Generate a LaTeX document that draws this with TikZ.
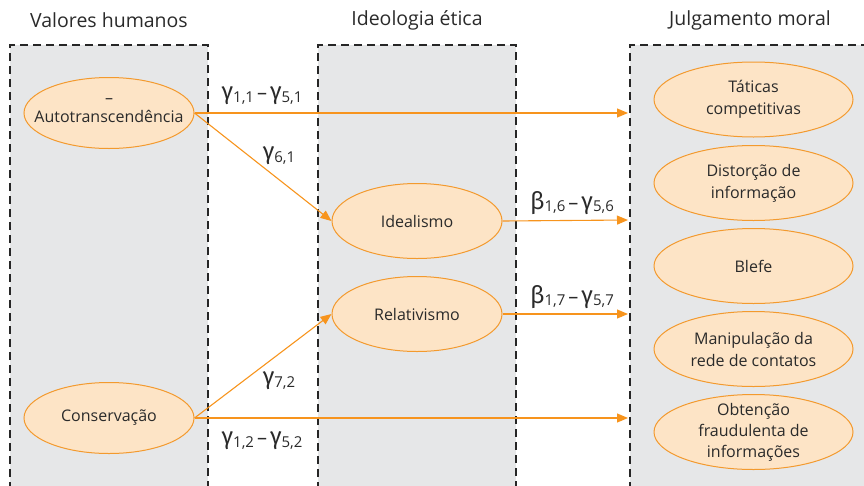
\documentclass[tikz,border=0pt]{standalone}
\usepackage{fontspec}
\setmainfont{Open Sans}
\newfontfamily\grk{Fira Sans}
\usetikzlibrary{shapes.geometric,arrows.meta}
\definecolor{boxgray}{HTML}{E6E7E8}
\definecolor{ellfill}{HTML}{FDE4C6}
\definecolor{ellline}{HTML}{F39A2E}
\definecolor{arr}{HTML}{F7941D}
\definecolor{txt}{HTML}{2A2A2A}
\newcommand{\gsub}[2]{{\grk\fontsize{24}{24}\selectfont #1}\raisebox{-0.4ex}{\fontsize{15}{15}\selectfont #2}}
\newcommand{\gdash}{\hspace{3pt}{\fontsize{20}{20}\selectfont –}\hspace{3pt}}
\begin{document}
\begin{tikzpicture}[x=1pt,y=-1pt,
  colbox/.style={draw=black!85,dash pattern=on 8pt off 5pt,line width=2.4pt},
  ell/.style={ellipse,draw=ellline,fill=ellfill,line width=1pt,minimum width=170pt,minimum height=71pt,inner sep=0pt},
  rell/.style={ell,minimum width=199pt,minimum height=75pt},
  etxt/.style={text=txt,font=\fontsize{16}{22}\selectfont,align=center},
  head/.style={text=txt,font=\fontsize{19.5}{22}\selectfont},
  conn/.style={draw=arr,line width=1.1pt,-{Triangle[length=11pt,width=9pt]}},
  lab/.style={text=txt,inner sep=0pt}]
\useasboundingbox (0,0) rectangle (864,485);
% column boxes
\fill[boxgray] (10,45) rectangle (208,490);
\fill[boxgray] (318,45) rectangle (516,490);
\fill[boxgray] (630,45) rectangle (870,490);
\draw[colbox] (10,490) -- (10,45) -- (208,45) -- (208,490);
\draw[colbox] (318,490) -- (318,45) -- (516,45) -- (516,490);
\draw[colbox] (630,490) -- (630,45) -- (870,45);
% headers
\node[head] (h1) at (109,20) {Valores humanos};
\node[head] (h2) at (417,20) {Ideologia ética};
\node[head] (h3) at (750,20) {Julgamento moral};
% left ellipses
\node[ell] (auto) at (109,113) {};
\node[etxt] (autot) at (109,111) {–\\[-3pt]Autotranscendência};
\node[ell] (cons) at (109,418) {};
\node[etxt] (const) at (cons) {Conservação};
% middle
\node[ell,minimum height=75pt] (ideal) at (417,221) {};
\node[etxt] (idealt) at (ideal) {Idealismo};
\node[ell,minimum height=75pt] (rel) at (417,314) {};
\node[etxt] (relt) at (rel) {Relativismo};
% right
\node[rell] (r1) at (753.5,99.5) {};
\node[etxt] (r1t) at (r1) {Táticas\\competitivas};
\node[rell] (r2) at (753.5,183) {};
\node[etxt] (r2t) at (r2) {Distorção de\\informação};
\node[rell] (r3) at (753.5,266) {};
\node[etxt] (r3t) at (r3) {Blefe};
\node[rell] (r4) at (753.5,349) {};
\node[etxt] (r4t) at (r4) {Manipulação da\\rede de contatos};
\node[rell] (r5) at (753.5,432) {};
\node[etxt,font=\fontsize{16}{21}\selectfont] (r5t) at (r5) {Obtenção\\fraudulenta de\\informações};
% arrow targets on box border
\coordinate (t1) at (628,113);
\coordinate (t2) at (628,220);
\coordinate (t3) at (628,314);
\coordinate (t4) at (628,418);
% connectors
\draw[conn] (auto.east) -- (t1);
\draw[conn] (auto.east) -- (ideal.west);
\draw[conn] (ideal.east) -- (t2);
\draw[conn] (rel.east) -- (t3);
\draw[conn] (cons.east) -- (rel.west);
\draw[conn] (cons.east) -- (t4);
% labels
\node[lab] (l1) at (262,96) {\gsub{γ}{1,1}\gdash\gsub{γ}{5,1}};
\node[lab] (l2) at (279,156) {\gsub{γ}{6,1}};
\node[lab] (l3) at (572,203) {\gsub{β}{1,6}\gdash\gsub{γ}{5,6}};
\node[lab] (l4) at (572,297) {\gsub{β}{1,7}\gdash\gsub{γ}{5,7}};
\node[lab] (l5) at (279,381) {\gsub{γ}{7,2}};
\node[lab] (l6) at (262,441) {\gsub{γ}{1,2}\gdash\gsub{γ}{5,2}};
\end{tikzpicture}
\end{document}
